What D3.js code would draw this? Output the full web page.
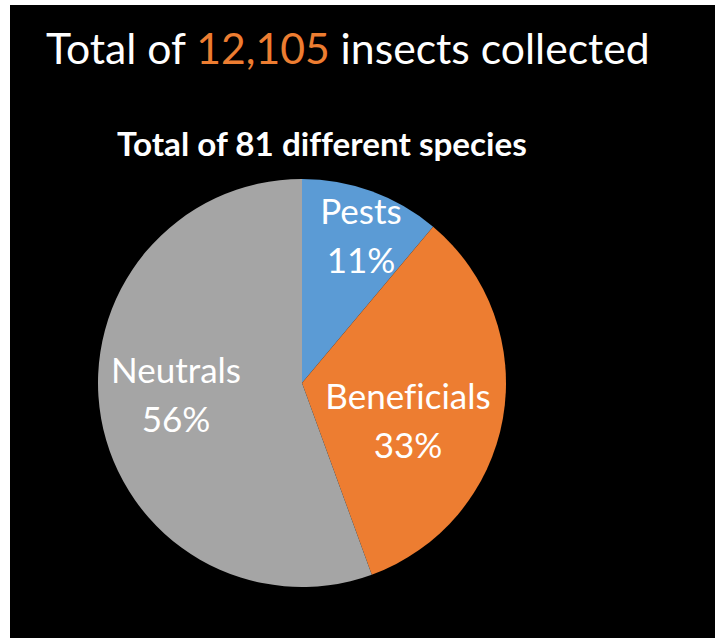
<!DOCTYPE html>
<html>
<head>
<meta charset="utf-8">
<script src="https://cdn.jsdelivr.net/npm/d3@7"></script>
<style>
  body { margin: 0; background: #fff; }
  svg { display: block; }
  text { font-variant-ligatures: none; }
</style>
</head>
<body>
<div id="chart"></div>
<script>
const width = 715;
const height = 639;

// species counts per group (81 species in total)
const groups = ["Pests", "Beneficials", "Neutrals"];
const species = [9, 27, 45];
const percentLabels = ["11%", "33%", "56%"];
const colors = ["#5B9BD5", "#ED7D31", "#A5A5A5"];
const totalInsects = "12,105";
const totalSpecies = 81;

const cx = 302, cy = 383, radius = 204;
const font = "Lato, 'Open Sans', sans-serif";

// baseline of first label line, relative to pie centre (Excel best-fit placement)
const labelPos = {
    Pests: [59, -159],
    Beneficials: [106, 26],
    Neutrals: [-126, 0]
};

const svg = d3.select("#chart")
    .append("svg")
    .attr("width", width)
    .attr("height", height);

svg.append("rect")
    .attr("x", 10)
    .attr("y", 5)
    .attr("width", width - 10)
    .attr("height", 633)
    .attr("fill", "#000");

// shrink/grow font so text spans the wanted width
function fitText(sel, target) {
    const w = sel.node().getComputedTextLength();
    const fs = parseFloat(sel.attr("font-size"));
    sel.attr("font-size", fs * target / w);
}

const title = svg.append("text")
    .attr("x", 46)
    .attr("y", 64)
    .attr("font-family", font)
    .attr("font-size", 44)
    .attr("fill", "#fff");
title.append("tspan").text("Total of ");
title.append("tspan").attr("fill", "#ED7D31").text(totalInsects);
title.append("tspan").text(" insects collected");
fitText(title, 604);

const subtitle = svg.append("text")
    .attr("x", 322)
    .attr("y", 156)
    .attr("text-anchor", "middle")
    .attr("font-family", font)
    .attr("font-weight", "bold")
    .attr("font-size", 30)
    .attr("fill", "#fff")
    .text(`Total of ${totalSpecies} different species`);
fitText(subtitle, 410);

const data = groups.map((g, i) => ({ name: g, value: species[i], pct: percentLabels[i], color: colors[i] }));

const pie = d3.pie()
    .value(d => d.value)
    .sort(null);

const arc = d3.arc()
    .innerRadius(0)
    .outerRadius(radius);

const g = svg.append("g")
    .attr("transform", `translate(${cx},${cy})`);

g.selectAll("path")
    .data(pie(data))
    .enter().append("path")
    .attr("d", arc)
    .attr("fill", d => d.data.color);

const labels = g.selectAll(".label")
    .data(pie(data))
    .enter().append("text")
    .attr("class", "label")
    .attr("transform", d => `translate(${labelPos[d.data.name][0]},${labelPos[d.data.name][1]})`)
    .attr("text-anchor", "middle")
    .attr("font-family", font)
    .attr("font-size", 35)
    .attr("fill", "#fff");

labels.append("tspan")
    .attr("x", 0)
    .attr("y", 0)
    .text(d => d.data.name);

labels.append("tspan")
    .attr("x", 0)
    .attr("y", 49)
    .text(d => d.data.pct);
</script>
</body>
</html>
